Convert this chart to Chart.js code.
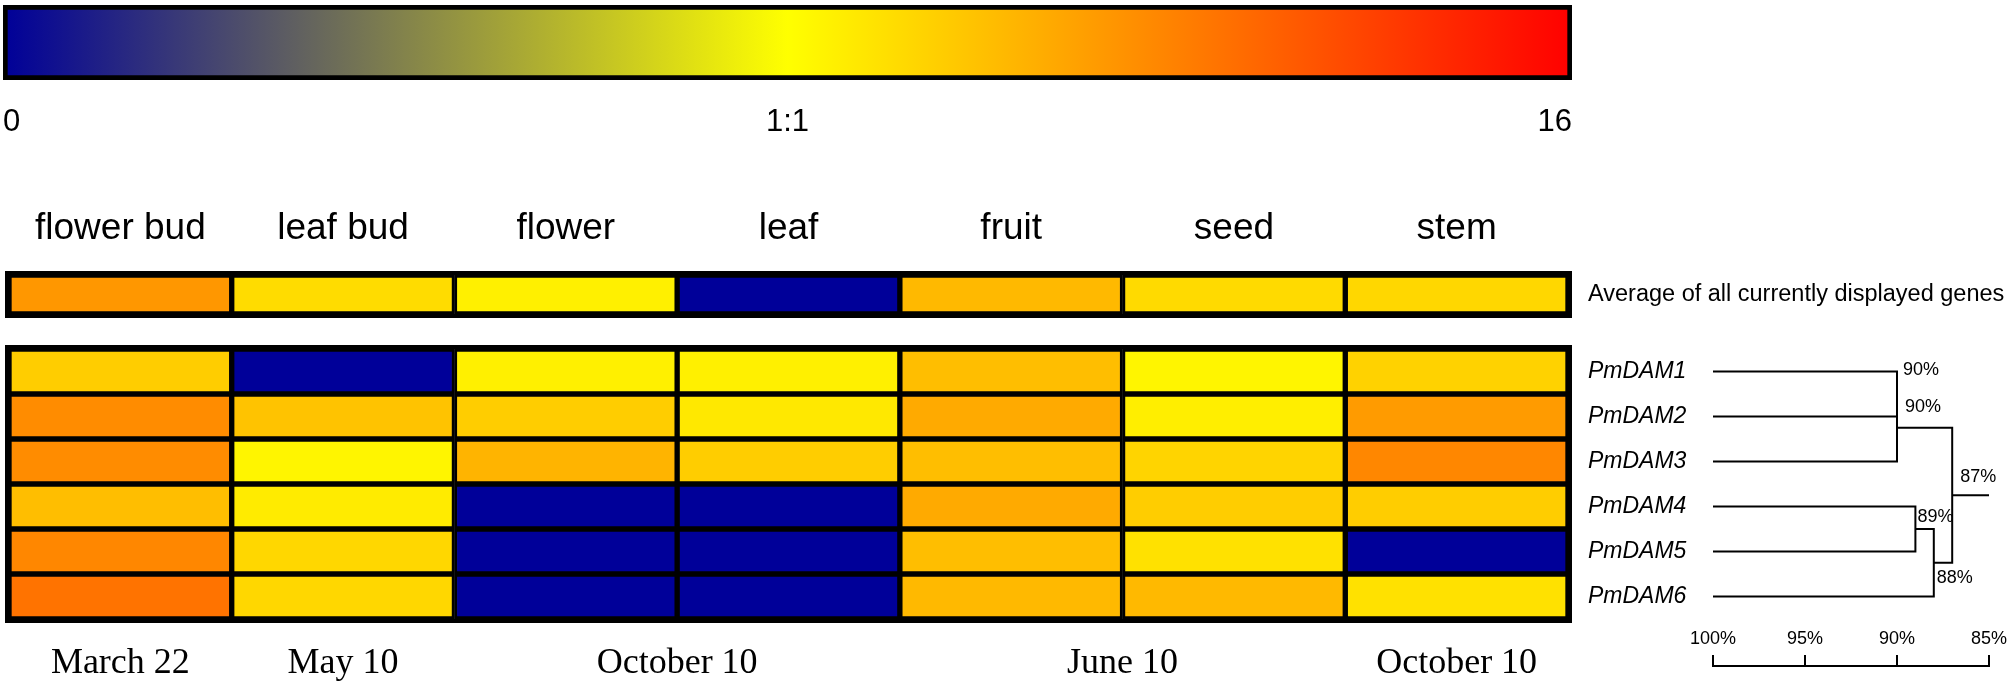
<!DOCTYPE html>
<html>
<head>
<meta charset="utf-8">
<script src="https://cdn.jsdelivr.net/npm/chart.js@4.4.0/dist/chart.umd.min.js"></script>
<style>
  html, body { margin: 0; padding: 0; background: #fff; }
  #page { position: relative; width: 2013px; height: 689px; overflow: hidden; }
  #page canvas { position: absolute; left: 0; }
</style>
</head>
<body>
<div id="page">
  <canvas id="colorBar" width="2013" height="160" style="top:0px"></canvas>
  <canvas id="avgChart" width="2013" height="140" style="top:180px"></canvas>
  <canvas id="geneChart" width="2013" height="349" style="top:340px"></canvas>
  <canvas id="treeChart" width="2013" height="349" style="top:340px"></canvas>
  <canvas id="scaleChart" width="2013" height="70" style="top:600px"></canvas>
</div>
<script>
// ---- data ----
const tissues = ['flower bud', 'leaf bud', 'flower', 'leaf', 'fruit', 'seed', 'stem'];
const genes = ['PmDAM1', 'PmDAM2', 'PmDAM3', 'PmDAM4', 'PmDAM5', 'PmDAM6'];
const avgLabel = 'Average of all currently displayed genes';

// expression ratio vs. reference (0 = not detected, 1 = 1:1, 16 = max)
const averageAll = [3.1, 1.46, 1.18, 0, 2.14, 1.5, 1.54];
const pmDAM1 = [1.72, 0, 1.18, 1.18, 2.03, 1.12, 1.63];
const pmDAM2 = [3.49, 1.92, 1.72, 1.28, 2.52, 1.2, 2.97];
const pmDAM3 = [3.49, 1.12, 2.26, 1.72, 2.03, 1.6, 3.68];
const pmDAM4 = [2.03, 1.24, 0, 0, 2.52, 1.72, 1.72];
const pmDAM5 = [3.68, 1.54, 0, 0, 2.03, 1.39, 0];
const pmDAM6 = [4.58, 1.54, 0, 0, 2.14, 2.14, 1.39];
const geneRows = [pmDAM1, pmDAM2, pmDAM3, pmDAM4, pmDAM5, pmDAM6];

// colour key
const keyTicks = [0, 1, 16];
const keyLabels = ['0', '1:1', '16'];

// sampling dates under the columns
const sampleDates = ['March 22', 'May 10', 'October 10', 'June 10', 'October 10'];
const dateTissues = [['flower bud'], ['leaf bud'], ['flower', 'leaf'], ['fruit', 'seed'], ['stem']];

// dendrogram: nodes 0-5 are genes, each merge adds a node (6, 7, ...)
const mergeA = [0, 6, 3, 8, 7];
const mergeB = [1, 2, 4, 5, 9];
const mergeSim = [90, 90, 89, 88, 87];
const simTicks = [100, 95, 90, 85];

// ---- helpers ----
Chart.defaults.color = '#000';
Chart.defaults.font.family = '"Liberation Sans", Arial, sans-serif';
Chart.defaults.animation = false;
Chart.defaults.plugins.legend.display = false;
Chart.defaults.plugins.tooltip.enabled = false;

function ratioPos(v) {
  return v < 1 ? v / 2 : 0.5 + Math.log2(v) / 8;
}
function keyColor(t) {
  if (t < 0.5) {
    const k = t / 0.5;
    return 'rgb(' + Math.round(255 * k) + ',' + Math.round(255 * k) + ',' + Math.round(153 * (1 - k)) + ')';
  }
  const k = (t - 0.5) / 0.5;
  return 'rgb(255,' + Math.round(255 * (1 - k)) + ',0)';
}
function heatColor(v) {
  return keyColor(ratioPos(v));
}

const noGrid = { display: false, drawTicks: false };
const noBorder = { display: false };

// keep tick labels from pushing the chart area around
function fixSize(size) {
  return function (s) {
    if (s.isHorizontal()) { s.height = size; } else { s.width = size; }
    s.paddingLeft = s.paddingRight = s.paddingTop = s.paddingBottom = 0;
  };
}

const framePlugin = {
  id: 'frame',
  afterDatasetsDraw(chart) {
    const a = chart.chartArea;
    const ctx = chart.ctx;
    ctx.save();
    ctx.lineWidth = 4;
    ctx.strokeStyle = '#000';
    ctx.strokeRect(a.left - 2, a.top - 2, a.right - a.left + 4, a.bottom - a.top + 4);
    ctx.restore();
  }
};

// ---- colour key ----
new Chart(document.getElementById('colorBar'), {
  type: 'bar',
  data: {
    labels: ['key'],
    datasets: [{
      data: [[ratioPos(keyTicks[0]), ratioPos(keyTicks[keyTicks.length - 1])]],
      backgroundColor: function (c) {
        const area = c.chart.chartArea;
        if (!area) return '#ffff00';
        const g = c.chart.ctx.createLinearGradient(area.left, 0, area.right, 0);
        [0, 0.25, 0.5, 0.75, 1].forEach(t => g.addColorStop(t, keyColor(t)));
        return g;
      },
      borderColor: '#000',
      borderWidth: 5,
      borderSkipped: false,
      barPercentage: 1,
      categoryPercentage: 1
    }]
  },
  options: {
    responsive: false,
    indexAxis: 'y',
    layout: { padding: { left: 3, right: 441, top: 5 } },
    scales: {
      x: {
        min: 0, max: 1,
        afterBuildTicks: s => { s.ticks = keyTicks.map(v => ({ value: ratioPos(v) })); },
        afterFit: fixSize(80),
        ticks: { callback: (v, i) => keyLabels[i], align: 'inner', font: { size: 31 }, padding: 24, autoSkip: false, maxRotation: 0 },
        grid: noGrid, border: noBorder
      },
      y: { display: false }
    }
  }
});

// ---- average row ----
new Chart(document.getElementById('avgChart'), {
  type: 'bar',
  data: {
    labels: [avgLabel],
    datasets: tissues.map((t, c) => ({
      label: t,
      data: [[c, c + 1]],
      backgroundColor: heatColor(averageAll[c]),
      borderColor: '#000',
      borderWidth: 3,
      borderSkipped: false,
      barPercentage: 1,
      categoryPercentage: 1,
      grouped: false
    }))
  },
  options: {
    responsive: false,
    indexAxis: 'y',
    layout: { padding: { left: 9, bottom: 6 } },
    scales: {
      x: {
        position: 'top',
        min: 0, max: tissues.length,
        afterBuildTicks: s => { s.ticks = tissues.map((t, i) => ({ value: i + 0.5 })); },
        afterFit: fixSize(95),
        ticks: { callback: (v, i) => tissues[i], font: { size: 37 }, padding: 24, autoSkip: false, maxRotation: 0 },
        grid: noGrid, border: noBorder
      },
      y: {
        position: 'right',
        afterFit: fixSize(445),
        ticks: { font: { size: 23.5 }, padding: 20 },
        grid: noGrid, border: noBorder
      }
    }
  },
  plugins: [framePlugin]
});

// ---- gene rows ----
new Chart(document.getElementById('geneChart'), {
  type: 'bar',
  data: {
    labels: genes,
    datasets: tissues.map((t, c) => ({
      label: t,
      data: genes.map(() => [c, c + 1]),
      backgroundColor: geneRows.map(row => heatColor(row[c])),
      borderColor: '#000',
      borderWidth: 3,
      borderSkipped: false,
      barPercentage: 1,
      categoryPercentage: 1,
      grouped: false
    }))
  },
  options: {
    responsive: false,
    indexAxis: 'y',
    layout: { padding: { left: 9, top: 9 } },
    scales: {
      x: {
        position: 'bottom',
        min: 0, max: tissues.length,
        afterBuildTicks: s => {
          s.ticks = dateTissues.map(list => ({
            value: list.reduce((sum, t) => sum + tissues.indexOf(t) + 0.5, 0) / list.length
          }));
        },
        afterFit: fixSize(70),
        ticks: {
          callback: (v, i) => sampleDates[i],
          font: { family: '"Liberation Serif", "Times New Roman", serif', size: 36 },
          padding: 23, autoSkip: false, maxRotation: 0
        },
        grid: noGrid, border: noBorder
      },
      y: {
        position: 'right',
        afterFit: fixSize(445),
        ticks: { font: { size: 23, style: 'italic' }, padding: 20 },
        grid: noGrid, border: noBorder
      }
    }
  },
  plugins: [framePlugin]
});

// ---- dendrogram ----
const nodeY = genes.map((g, i) => i);
const nodeH = genes.map(() => simTicks[0]);
mergeA.forEach((a, i) => {
  nodeY.push((nodeY[a] + nodeY[mergeB[i]]) / 2);
  nodeH.push(mergeSim[i]);
});
const rootNode = nodeY.length - 1;

const treeSets = mergeA.map((a, i) => {
  const b = mergeB[i];
  return {
    data: [
      { x: nodeH[a], y: nodeY[a] },
      { x: mergeSim[i], y: nodeY[a] },
      { x: mergeSim[i], y: nodeY[b] },
      { x: nodeH[b], y: nodeY[b] }
    ]
  };
});
treeSets.push({
  data: [
    { x: nodeH[rootNode], y: nodeY[rootNode] },
    { x: Math.min(...simTicks), y: nodeY[rootNode] }
  ]
});
treeSets.forEach(ds => Object.assign(ds, {
  showLine: true, borderColor: '#000', borderWidth: 2, pointRadius: 0, clip: false
}));

// label nudges in px from each merge point
const labelNudge = [[6, -24], [8, -21], [2, -12], [3, 15], [8, -18]];
const mergeLabels = {
  id: 'mergeLabels',
  afterDatasetsDraw(chart) {
    const ctx = chart.ctx;
    const xs = chart.scales.x, ys = chart.scales.y;
    ctx.save();
    ctx.font = '18px "Liberation Sans", Arial, sans-serif';
    ctx.fillStyle = '#000';
    ctx.textAlign = 'left';
    ctx.textBaseline = 'middle';
    mergeSim.forEach((s, i) => {
      const px = xs.getPixelForValue(s) + labelNudge[i][0];
      const py = ys.getPixelForValue(nodeY[genes.length + i]) + labelNudge[i][1];
      ctx.fillText(s + '%', px, py);
    });
    ctx.restore();
  }
};

new Chart(document.getElementById('treeChart'), {
  type: 'scatter',
  data: { datasets: treeSets },
  options: {
    responsive: false,
    layout: { padding: { left: 1713, right: 24, top: 9, bottom: 70 } },
    scales: {
      x: { display: false, min: Math.min(...simTicks), max: Math.max(...simTicks), reverse: true },
      y: { display: false, min: -0.5, max: genes.length - 0.5, reverse: true }
    }
  },
  plugins: [mergeLabels]
});

// ---- similarity scale bar ----
new Chart(document.getElementById('scaleChart'), {
  type: 'scatter',
  data: { datasets: [] },
  options: {
    responsive: false,
    layout: { padding: { left: 1713, right: 24 } },
    scales: {
      x: {
        position: 'top',
        min: Math.min(...simTicks), max: Math.max(...simTicks), reverse: true,
        afterBuildTicks: s => { s.ticks = simTicks.map(v => ({ value: v })); },
        afterFit: fixSize(66),
        ticks: { callback: v => v + '%', font: { size: 18 }, padding: 5, autoSkip: false, maxRotation: 0 },
        grid: { display: true, drawOnChartArea: false, drawTicks: true, tickLength: 11, color: '#000', lineWidth: 2 },
        border: { display: true, color: '#000', width: 2 }
      },
      y: { display: false, min: 0, max: 1 }
    }
  }
});
</script>
</body>
</html>
